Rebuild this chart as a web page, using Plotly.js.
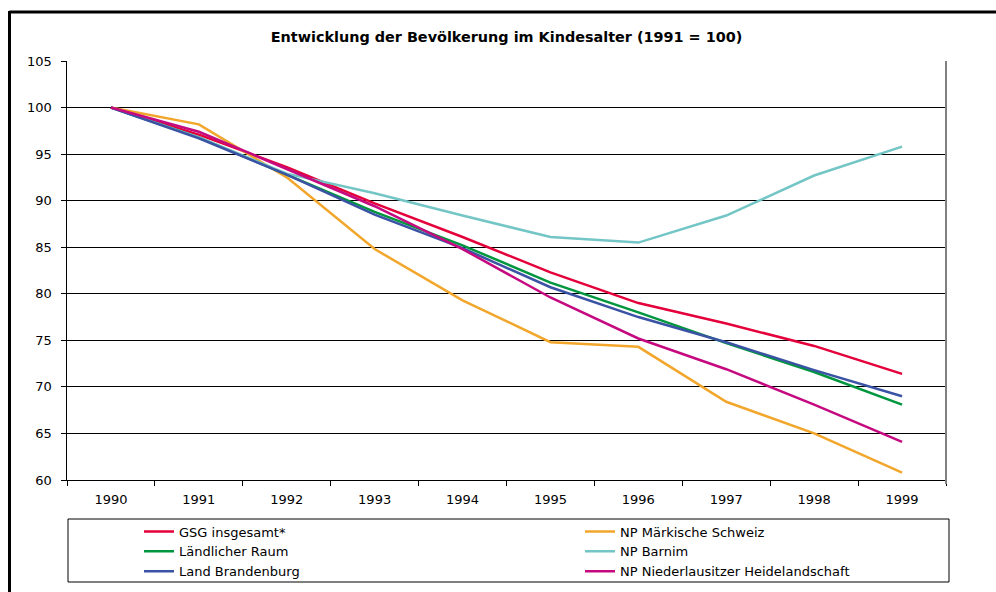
<!DOCTYPE html>
<html>
<head>
<meta charset="utf-8">
<script src="https://cdn.plot.ly/plotly-3.0.1.min.js"></script>
<style>html,body{margin:0;padding:0;background:#fff;}#chart{width:996px;height:592px;}</style>
</head>
<body>
<div id="chart"></div>
<script>
const years = ['1990','1991','1992','1993','1994','1995','1996','1997','1998','1999'];
const gsgInsgesamt = [100, 97.1, 93.6, 89.7, 86.1, 82.3, 79.0, 76.8, 74.4, 71.4];
const npMaerkischeSchweiz = [100, 98.2, 92.5, 84.8, 79.3, 74.8, 74.3, 68.4, 65.0, 60.8];
const laendlicherRaum = [100, 96.8, 92.8, 88.8, 85.2, 81.2, 78.0, 74.7, 71.6, 68.1];
const npBarnim = [100, 96.8, 92.9, 90.8, 88.4, 86.1, 85.5, 88.4, 92.7, 95.8];
const landBrandenburg = [100, 96.7, 92.8, 88.5, 84.9, 80.7, 77.5, 74.8, 71.8, 69.0];
const npNiederlausitz = [100, 97.4, 93.4, 89.4, 84.8, 79.6, 75.2, 71.9, 68.1, 64.1];
const seriesNames = ['GSG insgesamt*', 'NP Märkische Schweiz', 'Ländlicher Raum', 'NP Barnim', 'Land Brandenburg', 'NP Niederlausitzer Heidelandschaft'];
const seriesColors = ['#E4003A', '#F2A62B', '#00963E', '#73C5C6', '#3A53A4', '#C50A80'];
const seriesValues = [gsgInsgesamt, npMaerkischeSchweiz, laendlicherRaum, npBarnim, landBrandenburg, npNiederlausitz];
const seriesLegend = ['legend', 'legend2', 'legend', 'legend2', 'legend', 'legend2'];

const FONT = 'DejaVu Sans, Arial, sans-serif';
const traces = seriesNames.map((n, i) => ({
  type: 'scatter', mode: 'lines', name: n, x: years, y: seriesValues[i],
  legend: seriesLegend[i],
  line: {color: seriesColors[i], width: 2.5}
}));

// plot area px: x 67..946, y 61..480
const L = 67, R = 946, T = 61, B = 480;
const px = v => (v - L) / (R - L);
const py = v => (B - v) / (B - T);

const legendBase = {orientation: 'v', xanchor: 'left', yanchor: 'top', font: {family: FONT, size: 13, color: '#000'}, bgcolor: 'rgba(0,0,0,0)', borderwidth: 0, traceorder: 'normal', tracegroupgap: 0};

const layout = {
  width: 996, height: 592,
  margin: {l: L, r: 996 - R, t: T, b: 592 - B, pad: 0, autoexpand: false},
  paper_bgcolor: '#fff', plot_bgcolor: '#fff',
  font: {family: FONT, size: 13, color: '#000'},
  title: {text: '<b>Entwicklung der Bevölkerung im Kindesalter (1991 = 100)</b>', font: {family: FONT, size: 14.4, color: '#000'}, x: 0.5, xref: 'paper', y: 1 - 37 / 592, yanchor: 'middle'},
  showlegend: true,
  legend: Object.assign({}, legendBase, {x: px(139), y: py(516.5)}),
  legend2: Object.assign({}, legendBase, {x: px(580), y: py(516.5)}),
  xaxis: {type: 'category', range: [-0.5, 9.5], showgrid: false, zeroline: false, showline: true, linecolor: '#000', linewidth: 1, ticks: 'outside', tickson: 'boundaries', ticklen: 5, tickcolor: '#000', tickfont: {family: FONT, size: 13, color: '#000'}, ticklabelstandoff: 7, fixedrange: true},
  yaxis: {range: [60, 105], dtick: 5, tick0: 60, showgrid: true, gridcolor: '#000', gridwidth: 1, zeroline: false, showline: true, linecolor: '#000', linewidth: 1.5, ticks: 'outside', ticklen: 5, tickcolor: '#000', tickfont: {family: FONT, size: 13, color: '#000'}, ticklabelstandoff: 6, fixedrange: true},
  shapes: [
    {type: 'line', xref: 'paper', yref: 'paper', x0: px(9.5), x1: px(1000), y0: py(12), y1: py(12), line: {color: '#000', width: 3}},
    {type: 'line', xref: 'paper', yref: 'paper', x0: px(9.5), x1: px(9.5), y0: py(11), y1: py(595), line: {color: '#000', width: 3}},
    {type: 'line', xref: 'paper', yref: 'paper', x0: px(946), x1: px(946), y0: py(61), y1: py(484), line: {color: '#808080', width: 2}},
    {type: 'rect', xref: 'paper', yref: 'paper', x0: px(68), x1: px(949), y0: py(519), y1: py(582), line: {color: '#000', width: 1}, fillcolor: 'rgba(0,0,0,0)'}
  ]
};

Plotly.newPlot('chart', traces, layout, {displayModeBar: false, staticPlot: true});
</script>
</body>
</html>
